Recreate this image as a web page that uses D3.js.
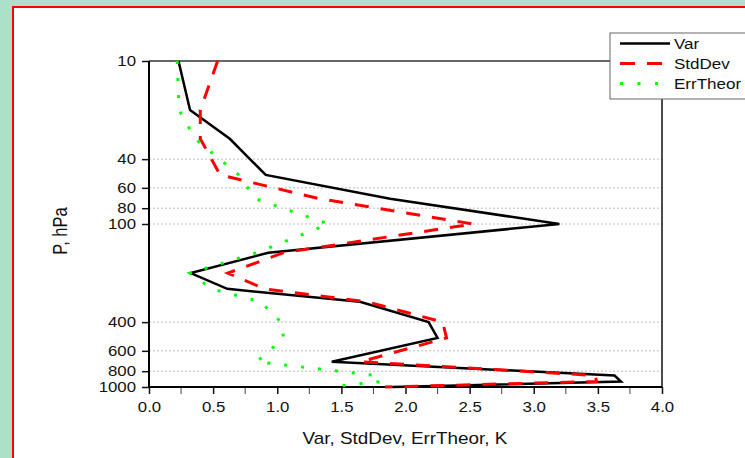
<!DOCTYPE html>
<html>
<head>
<meta charset="utf-8">
<script src="https://cdn.jsdelivr.net/npm/d3@7"></script>
<style>
  body { margin: 0; background: #ace0c9; }
  svg { display: block; }
  text { font-family: "Liberation Sans", Arial, sans-serif; fill: #111; }
</style>
</head>
<body>
<svg class="chart"></svg>
<script>
// pressure levels, hPa
const pressure = [10, 20, 30, 50, 70, 100, 150, 200, 250, 300, 400, 500, 700, 850, 925, 1000];
// values, K
const varK     = [0.23, 0.32, 0.63, 0.91, 1.88, 3.20, 0.93, 0.325, 0.61, 1.645, 2.18, 2.25, 1.425, 3.63, 3.68, 1.90];
const stdDev   = [0.535, 0.40, 0.40, 0.555, 1.33, 2.53, 1.05, 0.615, 0.90, 1.70, 2.29, 2.32, 1.65, 3.48, 3.49, 1.84];
const errTheor = [0.22, 0.235, 0.36, 0.70, 0.83, 1.40, 0.84, 0.32, 0.49, 0.87, 1.03, 1.05, 0.84, 1.77, 1.81, 1.41];

const yTicks = [10, 40, 60, 80, 100, 400, 600, 800, 1000];
const xTicks = [0, 0.5, 1, 1.5, 2, 2.5, 3, 3.5, 4];
const xMinor = [0.25, 0.75, 1.25, 1.75, 2.25, 2.75, 3.25, 3.75];

const seriesNames = ['Var', 'StdDev', 'ErrTheor'];

const width = 745;
const height = 458;

const svg = d3.select('.chart')
  .attr('width', width)
  .attr('height', height);

// stretch text horizontally around its anchor (the original is a widened bitmap)
const stretch = (sel, sx) => {
  sel.each(function () {
    const t = d3.select(this);
    const x0 = +t.attr('x') || 0;
    const prev = t.attr('transform') || '';
    t.attr('transform', `${prev} translate(${x0 * (1 - sx)},0) scale(${sx},1)`);
  });
};

svg.append('rect')
  .attr('width', width).attr('height', height)
  .attr('fill', '#ace0c9');

svg.append('rect')
  .attr('x', 13).attr('y', 7)
  .attr('width', 800).attr('height', 500)
  .attr('fill', '#fff')
  .attr('stroke', '#f00')
  .attr('stroke-width', 2);

const margin = {left: 149, right: 83, top: 61, bottom: 71};

const xScale = d3.scaleLinear()
  .domain([0, 4])
  .range([margin.left, width - margin.right]);

const yScale = d3.scaleLog()
  .domain([10, 1000])
  .range([margin.top, height - margin.bottom]);

// grid
svg.append('g')
  .selectAll('line').data(yTicks.slice(1, -1)).enter().append('line')
  .attr('x1', xScale(0)).attr('x2', xScale(4))
  .attr('y1', d => yScale(d)).attr('y2', d => yScale(d))
  .attr('stroke', '#bdbdbd')
  .attr('stroke-dasharray', '2,2');

// frame: top and right
svg.append('line')
  .attr('x1', xScale(0)).attr('x2', xScale(4))
  .attr('y1', yScale(10)).attr('y2', yScale(10))
  .attr('stroke', '#333').attr('stroke-width', 1.5);
svg.append('line')
  .attr('x1', xScale(4)).attr('x2', xScale(4))
  .attr('y1', yScale(10)).attr('y2', yScale(1000))
  .attr('stroke', '#111').attr('stroke-width', 1.5);

// axes
const yaxis = d3.axisLeft(yScale)
  .tickValues(yTicks)
  .tickFormat(d3.format('d'))
  .tickSize(7)
  .tickPadding(6);

const xaxis = d3.axisBottom(xScale)
  .tickValues(xTicks)
  .tickFormat(d3.format('.1f'))
  .tickSize(7)
  .tickPadding(8);

const gy = svg.append('g')
  .attr('transform', `translate(${margin.left},0)`)
  .call(yaxis);
gy.select('.domain').remove();
gy.selectAll('.tick line').attr('stroke', '#111').attr('stroke-width', 1.5);
gy.selectAll('text').attr('font-size', 14).attr('fill', '#111');
stretch(gy.selectAll('text'), 1.2);

const gx = svg.append('g')
  .attr('transform', `translate(0,${yScale(1000)})`)
  .call(xaxis);
gx.select('.domain').remove();
gx.selectAll('.tick line').attr('stroke', '#111').attr('stroke-width', 1.5);
gx.selectAll('text').attr('font-size', 14).attr('fill', '#111');
stretch(gx.selectAll('text'), 1.2);

gx.selectAll('.minor').data(xMinor).enter().append('line')
  .attr('x1', d => xScale(d)).attr('x2', d => xScale(d))
  .attr('y1', 0).attr('y2', 7)
  .attr('stroke', '#444').attr('stroke-width', 1);

// axis lines
svg.append('line')
  .attr('x1', xScale(0)).attr('x2', xScale(0))
  .attr('y1', yScale(10)).attr('y2', yScale(1000))
  .attr('stroke', '#000').attr('stroke-width', 2);
svg.append('line')
  .attr('x1', xScale(0)).attr('x2', xScale(4))
  .attr('y1', yScale(1000)).attr('y2', yScale(1000))
  .attr('stroke', '#000').attr('stroke-width', 2);

// titles
const xt = svg.append('text')
  .attr('x', 405).attr('y', 444)
  .attr('text-anchor', 'middle')
  .attr('font-size', 16)
  .text('Var, StdDev, ErrTheor, K');
stretch(xt, 1.18);

svg.append('text')
  .attr('transform', `translate(67,231) rotate(-90) scale(1,1.2)`)
  .attr('text-anchor', 'middle')
  .attr('font-size', 16.5)
  .text('P, hPa');

// series
const styles = [
  {values: varK, color: '#000', width: 2.5, dash: null},
  {values: stdDev, color: '#f00', width: 3, dash: '14,12'},
  {values: errTheor, color: '#0f0', width: 3, dash: '3,14'}
];

const line = d3.line()
  .x(d => xScale(d[0]))
  .y(d => yScale(d[1]));

styles.forEach(s => {
  svg.append('path')
    .datum(s.values.map((v, i) => [v, pressure[i]]))
    .attr('d', line)
    .attr('fill', 'none')
    .attr('stroke', s.color)
    .attr('stroke-width', s.width)
    .attr('stroke-linejoin', 'miter')
    .attr('stroke-dasharray', s.dash);
});

// legend
const lg = svg.append('g').attr('transform', 'translate(610,33)');
lg.append('rect')
  .attr('width', 150).attr('height', 66)
  .attr('fill', '#fff')
  .attr('stroke', '#666').attr('stroke-width', 1);

seriesNames.forEach((name, i) => {
  const yy = 10.5 + i * 20;
  lg.append('line')
    .attr('x1', 10).attr('x2', 60)
    .attr('y1', yy).attr('y2', yy)
    .attr('stroke', styles[i].color)
    .attr('stroke-width', styles[i].width)
    .attr('stroke-dasharray', i === 1 ? '15,12' : (i === 2 ? '3,14.5' : null));
  const t = lg.append('text')
    .attr('x', 64).attr('y', yy + 5.5)
    .attr('font-size', 15.5)
    .text(name);
  stretch(t, 1.1);
});
</script>
</body>
</html>
